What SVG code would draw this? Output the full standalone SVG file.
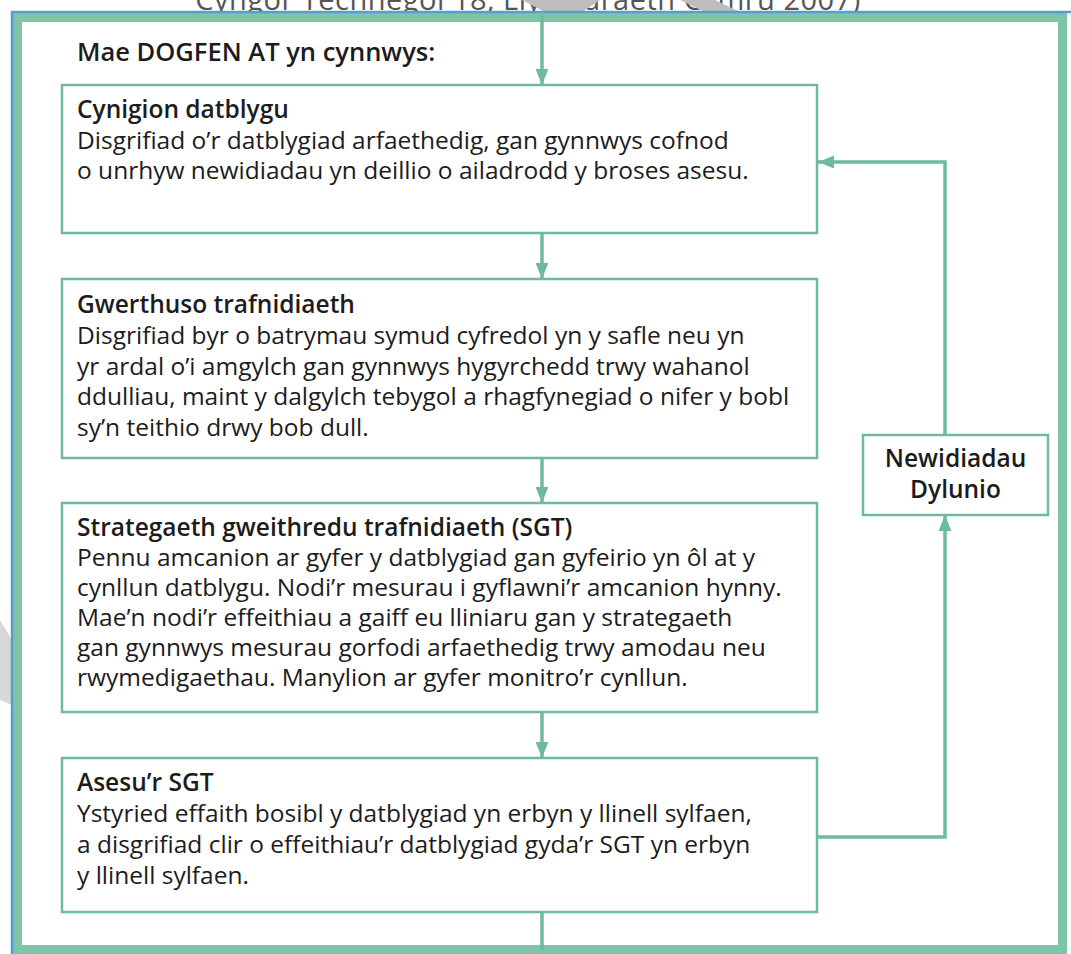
<svg xmlns="http://www.w3.org/2000/svg" width="1071" height="954" viewBox="0 0 1071 954">
  <style>
    .frame { fill: #ffffff; stroke: #7dc5a6; stroke-width: 9; }
    .blue { fill: none; stroke: #5b9bd5; stroke-width: 2.5; }
    .box { fill: #ffffff; stroke: #6dbb9d; stroke-width: 2.5; }
    .conn { fill: none; stroke: #6dbb9d; stroke-width: 3.5; }
    .t { font-family: "Open Sans", "Liberation Sans", sans-serif; font-size: 24.5px; fill: #1c1c1c; }
    .b { font-weight: 600; }
    .intro { font-size: 25.5px; }
    .head { font-family: "Open Sans", "Liberation Sans", sans-serif; font-size: 29px; fill: #555555; letter-spacing: 0.5px; }
    .wm { fill: #bdbdbd; }
  </style>
  <defs>
    <marker id="arr" markerWidth="16" markerHeight="20" refX="20" refY="8" viewBox="0 0 20 16" orient="auto" markerUnits="userSpaceOnUse">
      <path d="M0,0 L20,8 L0,16 Z" fill="#6dbb9d"/>
    </marker>
  </defs>

  <rect x="0" y="0" width="1071" height="954" fill="#ffffff"/>

  <g id="heading">
    <text class="head" x="528" y="10" text-anchor="middle">Cyngor Technegol 18, Llywodraeth Cymru 2007)</text>
  </g>

  <g id="watermark">
    <polygon class="wm" points="522,0 600,0 582,12 545,12"/>
    <polygon class="wm" points="680,0 715,0 740,12 705,12"/>
    <polygon class="wm" points="0,620 12,640 12,705 0,700" opacity="0.6"/>
  </g>

  <g id="frame">
    <rect class="frame" x="17.5" y="17.5" width="1045" height="932"/>
    <path class="blue" d="M12,954 L12,12 L1071,12"/>
  </g>

  <g id="connectors">
    <line class="conn" x1="542" y1="12" x2="542" y2="85" marker-end="url(#arr)"/>
    <line class="conn" x1="542" y1="233" x2="542" y2="279" marker-end="url(#arr)"/>
    <line class="conn" x1="542" y1="458" x2="542" y2="503" marker-end="url(#arr)"/>
    <line class="conn" x1="542" y1="712" x2="542" y2="758" marker-end="url(#arr)"/>
    <line class="conn" x1="542" y1="912" x2="542" y2="950"/>
    <path class="conn" d="M817,837 L945,837 L945,515" marker-end="url(#arr)"/>
    <path class="conn" d="M945,435 L945,162 L818,162" marker-end="url(#arr)"/>
  </g>

  <g id="intro">
    <text class="t b intro" x="77" y="61">Mae DOGFEN AT yn cynnwys:</text>
  </g>

  <g id="node-cynigion">
    <rect class="box" x="62" y="85" width="755" height="148"/>
    <text class="t b" x="77" y="118">Cynigion datblygu</text>
    <text class="t" x="77" y="148.5">Disgrifiad o’r datblygiad arfaethedig, gan gynnwys cofnod</text>
    <text class="t" x="77" y="179">o unrhyw newidiadau yn deillio o ailadrodd y broses asesu.</text>
  </g>

  <g id="node-gwerthuso">
    <rect class="box" x="62" y="279" width="755" height="179"/>
    <text class="t b" x="77" y="313">Gwerthuso trafnidiaeth</text>
    <text class="t" x="77" y="344">Disgrifiad byr o batrymau symud cyfredol yn y safle neu yn</text>
    <text class="t" x="77" y="374.5">yr ardal o’i amgylch gan gynnwys hygyrchedd trwy wahanol</text>
    <text class="t" x="77" y="405">ddulliau, maint y dalgylch tebygol a rhagfynegiad o nifer y bobl</text>
    <text class="t" x="77" y="435.5">sy’n teithio drwy bob dull.</text>
  </g>

  <g id="node-sgt">
    <rect class="box" x="62" y="503" width="755" height="209"/>
    <text class="t b" x="77" y="535.5">Strategaeth gweithredu trafnidiaeth (SGT)</text>
    <text class="t" x="77" y="566">Pennu amcanion ar gyfer y datblygiad gan gyfeirio yn ôl at y</text>
    <text class="t" x="77" y="596">cynllun datblygu. Nodi’r mesurau i gyflawni’r amcanion hynny.</text>
    <text class="t" x="77" y="626">Mae’n nodi’r effeithiau a gaiff eu lliniaru gan y strategaeth</text>
    <text class="t" x="77" y="656">gan gynnwys mesurau gorfodi arfaethedig trwy amodau neu</text>
    <text class="t" x="77" y="686">rwymedigaethau. Manylion ar gyfer monitro’r cynllun.</text>
  </g>

  <g id="node-asesu">
    <rect class="box" x="62" y="758" width="755" height="154"/>
    <text class="t b" x="77" y="791">Asesu’r SGT</text>
    <text class="t" x="77" y="822">Ystyried effaith bosibl y datblygiad yn erbyn y llinell sylfaen,</text>
    <text class="t" x="77" y="853">a disgrifiad clir o effeithiau’r datblygiad gyda’r SGT yn erbyn</text>
    <text class="t" x="77" y="884">y llinell sylfaen.</text>
  </g>

  <g id="node-newidiadau">
    <rect class="box" x="863" y="435" width="185" height="80"/>
    <text class="t b" x="955.5" y="467" text-anchor="middle">Newidiadau</text>
    <text class="t b" x="955.5" y="498" text-anchor="middle">Dylunio</text>
  </g>
</svg>
